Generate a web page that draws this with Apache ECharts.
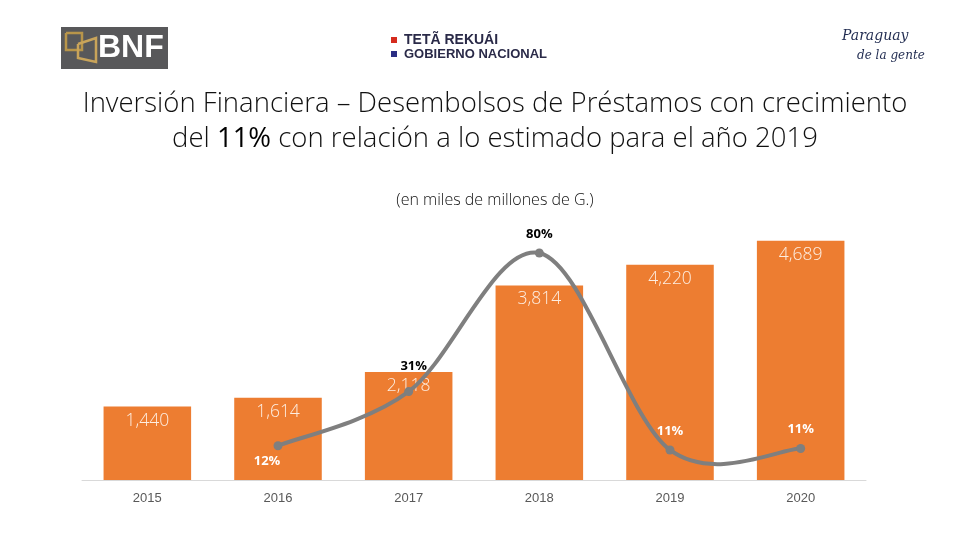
<!DOCTYPE html>
<html>
<head>
<meta charset="utf-8">
<script src="https://cdn.jsdelivr.net/npm/echarts@6/dist/echarts.min.js"></script>
<style>
html,body{margin:0;padding:0;background:#fff;}
#chart{width:960px;height:540px;}
</style>
</head>
<body>
<div id="chart"></div>
<script>
const years = ['2015', '2016', '2017', '2018', '2019', '2020'];
const desembolsos = [1440, 1614, 2118, 3814, 4220, 4689];
const crecimiento = [null, 12.1, 31.2, 80.1, 10.6, 11.1];
const crecimientoLabelColors = [null, '#ffffff', '#000000', '#000000', '#ffffff', '#ffffff'];
const crecimientoLabelPos = [null, 'bottom', 'top', 'top', 'top', 'top'];

const chart = echarts.init(document.getElementById('chart'));

const labelOffsets = [null, [-11, -3], [5, -6], [0, 0], [0, 0], [0, 0]];
const lineData = crecimiento.map((v, i) => v === null ? null : {
  value: v,
  label: { color: crecimientoLabelColors[i], position: crecimientoLabelPos[i], offset: labelOffsets[i] }
});

// Excel-like smoothed curve (Catmull-Rom -> cubic Bezier) through the library's coordinates
function renderSmooth(params, api) {
  if (params.dataIndex !== 0) return null;
  const pts = [];
  crecimiento.forEach((v, i) => { if (v !== null) pts.push(api.coord([i, v])); });
  if (pts.length < 2) return null;
  let d = 'M' + pts[0][0] + ' ' + pts[0][1];
  for (let i = 0; i < pts.length - 1; i++) {
    const p0 = pts[i - 1] || pts[i];
    const p1 = pts[i];
    const p2 = pts[i + 1];
    const p3 = pts[i + 2] || pts[i + 1];
    const c1 = [p1[0] + (p2[0] - p0[0]) / 6, p1[1] + (p2[1] - p0[1]) / 6];
    const c2 = [p2[0] - (p3[0] - p1[0]) / 6, p2[1] - (p3[1] - p1[1]) / 6];
    d += ' C' + c1[0] + ' ' + c1[1] + ' ' + c2[0] + ' ' + c2[1] + ' ' + p2[0] + ' ' + p2[1];
  }
  return {
    type: 'path',
    shape: { pathData: d },
    style: { stroke: '#7f7f7f', lineWidth: 4, fill: null, lineCap: 'round', lineJoin: 'round' }
  };
}

const titleBase = { fontFamily: 'Open Sans', fontWeight: 300, fontSize: 27.5, color: '#111111', lineHeight: 35 };

chart.setOption({
  animation: false,
  backgroundColor: '#ffffff',
  title: [
    {
      text: '{a|Inversión Financiera – Desembolsos de Préstamos con crecimiento}\n{a|del }{b|11%}{a| con relación a lo estimado para el año 2019}',
      left: 490,
      textAlign: 'center',
      top: 82,
      textStyle: {
        fontFamily: 'Open Sans', fontWeight: 300, fontSize: 27.5, color: '#111111', lineHeight: 35,
        rich: {
          a: titleBase,
          b: Object.assign({}, titleBase, { fontWeight: 'normal', color: '#000000' })
        }
      }
    },
    {
      text: '(en miles de millones de G.)',
      left: 490,
      textAlign: 'center',
      top: 187,
      textStyle: { fontFamily: 'Open Sans', fontWeight: 300, fontSize: 16, color: '#111111' }
    }
  ],
  grid: { left: 82, right: 94, top: 225, bottom: 60 },
  xAxis: {
    type: 'category',
    data: years,
    boundaryGap: true,
    axisLine: { lineStyle: { color: '#d9d9d9', width: 1 } },
    axisTick: { show: false },
    axisLabel: { color: '#595959', fontSize: 13, fontFamily: 'Liberation Sans Narrow, Liberation Sans', margin: 12 }
  },
  yAxis: [
    { type: 'value', min: 0, max: 5000, show: false, splitLine: { show: false } },
    { type: 'value', min: 0, max: 90, show: false, splitLine: { show: false } }
  ],
  series: [
    {
      type: 'bar',
      data: desembolsos,
      barWidth: '67%',
      itemStyle: { color: '#ed7d31' },
      label: {
        show: true,
        position: 'insideTop',
        distance: 5,
        color: '#fdeee2',
        fontFamily: 'Open Sans',
        fontWeight: 300,
        fontSize: 17.5,
        formatter: p => p.value.toLocaleString('en-US')
      }
    },
    {
      type: 'custom',
      yAxisIndex: 1,
      data: crecimiento.map((v, i) => [i, v === null ? 0 : v]),
      renderItem: renderSmooth,
      silent: true,
      z: 3
    },
    {
      type: 'line',
      yAxisIndex: 1,
      data: lineData,
      connectNulls: false,
      symbol: 'circle',
      symbolSize: 9,
      lineStyle: { opacity: 0 },
      itemStyle: { color: '#7f7f7f' },
      z: 4,
      label: {
        show: true,
        fontFamily: 'Open Sans',
        fontWeight: 'bold',
        fontSize: 13,
        distance: 8,
        formatter: p => Math.round(p.value) + '%'
      }
    }
  ],
  graphic: [
    { type: 'rect', shape: { x: 61, y: 27, width: 107, height: 42 }, style: { fill: '#58585a' } },
    { type: 'polyline', shape: { points: [[66, 33], [82, 33], [82, 50], [66, 50], [66, 33]] }, style: { stroke: '#b8954a', lineWidth: 2.5, fill: null } },
    { type: 'polyline', shape: { points: [[78, 44], [96, 38], [96, 62], [78, 58], [78, 44]] }, style: { stroke: '#c9a45a', lineWidth: 2.5, fill: null } },
    { type: 'text', style: { text: 'BNF', x: 98, y: 48, fill: '#ffffff', font: 'bold 32px Liberation Sans', textVerticalAlign: 'middle' } },
    { type: 'rect', shape: { x: 391, y: 37, width: 6, height: 6 }, style: { fill: '#d52b1e' } },
    { type: 'rect', shape: { x: 391, y: 51, width: 6, height: 6 }, style: { fill: '#2b2e83' } },
    { type: 'text', style: { text: 'TETÃ REKUÁI', x: 404, y: 40, fill: '#2a2a48', font: 'bold 14px Liberation Sans', textVerticalAlign: 'middle' } },
    { type: 'text', style: { text: 'GOBIERNO NACIONAL', x: 404, y: 54, fill: '#2a2a48', font: 'bold 13px Liberation Sans', textVerticalAlign: 'middle' } },
    { type: 'text', style: { text: 'Paraguay', x: 842, y: 36, fill: '#1f2a4f', font: 'italic 14px DejaVu Serif', textVerticalAlign: 'middle' } },
    { type: 'text', style: { text: 'de la gente', x: 857, y: 56, fill: '#1f2a4f', font: 'italic 12px DejaVu Serif', textVerticalAlign: 'middle' } }
  ]
});
</script>
</body>
</html>
